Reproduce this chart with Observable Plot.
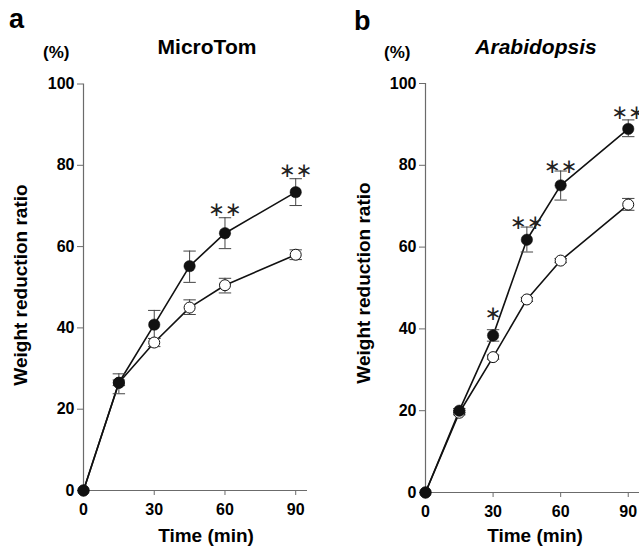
<!DOCTYPE html>
<html><head><meta charset="utf-8">
<script src="https://cdn.jsdelivr.net/npm/d3@7"></script>
<script src="https://cdn.jsdelivr.net/npm/@observablehq/plot@0.6"></script>
<style>
body{margin:0;background:#fff;font-family:"Liberation Sans",Arial,sans-serif;}
#wrap{position:relative;width:639px;height:546px;overflow:hidden;}
#wrap svg{position:absolute;top:0;overflow:visible;}
.lbl{position:absolute;font-weight:bold;color:#000;white-space:nowrap;line-height:1;}
.c{transform:translateX(-50%);}
.rot{transform:translate(-50%,-50%) rotate(-90deg);}
</style></head><body><div id="wrap"></div>
<script>
const times = [0, 15, 30, 45, 60, 90];
const yTicks = [0, 20, 40, 60, 80, 100];
const xTicks = [0, 30, 60, 90];

// Panel a: MicroTom
const aFilled   = [0, 26.5, 40.8, 55.2, 63.3, 73.4];
const aFilledLo = [0, 23.8, 37.4, 51.2, 59.5, 70.1];
const aFilledHi = [0, 28.7, 44.3, 58.9, 67.1, 76.7];
const aOpen     = [0, 26.5, 36.4, 45.0, 50.5, 58.0];
const aOpenLo   = [0, 25.8, 35.4, 43.3, 48.6, 56.8];
const aOpenHi   = [0, 27.2, 37.4, 46.9, 52.2, 59.2];
const aStarTimes = [60, 90];
const aStarLabels = ["**", "**"];
const aStarY = [69.0, 78.6];

// Panel b: Arabidopsis
const bFilled   = [0, 20.0, 38.4, 61.8, 75.1, 88.9];
const bFilledLo = [0, 19.5, 37.0, 58.8, 71.5, 87.0];
const bFilledHi = [0, 20.5, 39.8, 64.9, 78.6, 91.1];
const bOpen     = [0, 19.5, 33.1, 47.2, 56.7, 70.4];
const bOpenLo   = [0, 19.0, 32.6, 46.7, 56.2, 69.0];
const bOpenHi   = [0, 20.0, 33.6, 47.7, 57.2, 71.9];
const bStarTimes = [30, 45, 60, 90];
const bStarLabels = ["*", "**", "**", "**"];
const bStarY = [43.8, 66.0, 79.7, 92.8];

const capSymbol = {draw(ctx, size) { const w = Math.sqrt(size); ctx.moveTo(-w, 0); ctx.lineTo(w, 0); }};

function rows(v, lo, hi) { return times.map((t, i) => ({t, v: v[i], lo: lo[i], hi: hi[i]})); }

function panel(o) {
  const F = rows(o.filled, o.filledLo, o.filledHi);
  const O = rows(o.open, o.openLo, o.openHi);
  const S = o.starTimes.map((t, i) => ({t, y: o.starY[i], s: o.starLabels[i]}));
  const errs = [...O, ...F].filter(d => d.hi - d.lo > 0.01);
  return Plot.plot({
    width: o.width, height: 546,
    marginLeft: o.ml, marginRight: o.mr, marginTop: o.mt, marginBottom: o.mb,
    x: {domain: [0, 95], axis: null},
    y: {domain: [0, 100], axis: null},
    style: {fontFamily: "'Liberation Sans', Arial, sans-serif", fontSize: "16px", fontWeight: "bold", overflow: "visible", background: "transparent"},
    marks: [
      Plot.axisY({ticks: yTicks, tickSize: 6, tickPadding: 3, stroke: "#6b6b6b", fontSize: 16, fontWeight: "bold", label: null}),
      Plot.axisX({ticks: xTicks, tickSize: 5, tickPadding: 8, stroke: "#6b6b6b", fontSize: 16, fontWeight: "bold", label: null}),
      Plot.ruleX([0], {y1: 0, y2: 100, stroke: "#6b6b6b", strokeWidth: 1.2}),
      Plot.ruleY([0], {x1: 0, x2: 95, stroke: "#6b6b6b", strokeWidth: 1.2}),
      Plot.line(O, {x: "t", y: "v", stroke: "#111", strokeWidth: 1.6}),
      Plot.line(F, {x: "t", y: "v", stroke: "#111", strokeWidth: 1.6}),
      Plot.ruleX(errs, {x: "t", y1: "lo", y2: "hi", stroke: "#444", strokeWidth: 1}),
      Plot.dot(errs, {x: "t", y: "lo", symbol: capSymbol, r: 3.5, stroke: "#444", strokeWidth: 1}),
      Plot.dot(errs, {x: "t", y: "hi", symbol: capSymbol, r: 3.5, stroke: "#444", strokeWidth: 1}),
      Plot.dot(O, {x: "t", y: "v", r: 5.5, fill: "white", stroke: "#111", strokeWidth: 1}),
      Plot.dot(F, {x: "t", y: "v", r: 5.7, fill: "#111", stroke: "#111", strokeWidth: 0.5}),
      Plot.text(S, {x: "t", y: "y", text: d => d.s.replace(/\*/g, "\u2217"), fontSize: 20, fontWeight: "normal", fontFamily: "DejaVu Sans", fill: "#222", lineAnchor: "middle"})
    ]
  });
}

const wrap = document.getElementById("wrap");
const pa = panel({width: 320, ml: 83, mr: 13, mt: 83.5, mb: 56,
  filled: aFilled, filledLo: aFilledLo, filledHi: aFilledHi,
  open: aOpen, openLo: aOpenLo, openHi: aOpenHi,
  starTimes: aStarTimes, starLabels: aStarLabels, starY: aStarY});
pa.style.left = "0px";
wrap.appendChild(pa);
const pb = panel({width: 319, ml: 105, mr: 0, mt: 83, mb: 54,
  filled: bFilled, filledLo: bFilledLo, filledHi: bFilledHi,
  open: bOpen, openLo: bOpenLo, openHi: bOpenHi,
  starTimes: bStarTimes, starLabels: bStarLabels, starY: bStarY});
pb.style.left = "320px";
wrap.appendChild(pb);

function label(text, css, cls, italic) {
  const d = document.createElement("div");
  d.className = "lbl " + (cls || "");
  d.textContent = text;
  Object.assign(d.style, css);
  if (italic) d.style.fontStyle = "italic";
  wrap.appendChild(d);
}
label("a", {left: "9px", top: "6px", fontSize: "27px"});
label("b", {left: "354px", top: "8px", fontSize: "27px"});
label("(%)", {left: "43px", top: "44px", fontSize: "17px"});
label("(%)", {left: "384px", top: "44px", fontSize: "17px"});
label("MicroTom", {left: "207px", top: "36px", fontSize: "21px"}, "c");
label("Arabidopsis", {left: "536px", top: "36px", fontSize: "21px"}, "c", true);
label("Weight reduction ratio", {left: "20px", top: "285px", fontSize: "19px"}, "rot");
label("Weight reduction ratio", {left: "363px", top: "283px", fontSize: "19px"}, "rot");
label("Time (min)", {left: "206px", top: "526px", fontSize: "19px"}, "c");
label("Time (min)", {left: "535px", top: "526px", fontSize: "19px"}, "c");
</script>
</body></html>
